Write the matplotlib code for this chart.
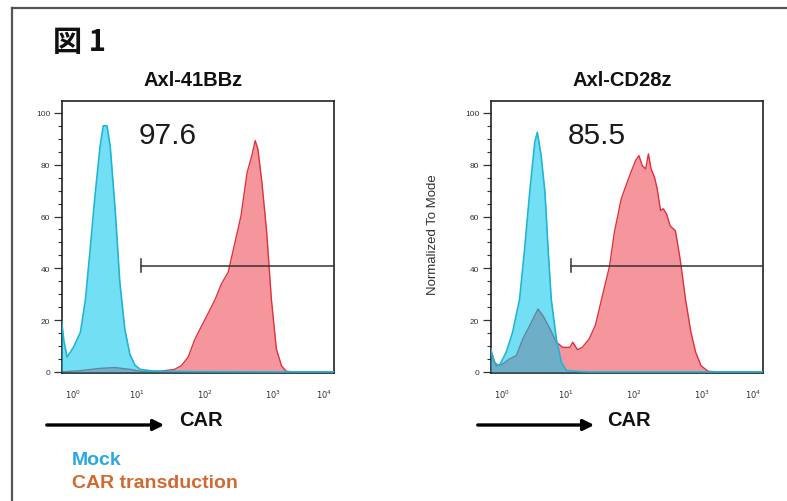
import numpy as np
import matplotlib
matplotlib.use('Agg')
import matplotlib.pyplot as plt
from matplotlib.lines import Line2D
from matplotlib.patches import FancyArrowPatch

# x values are log10 of the CAR signal (decades), y is % of mode
left_mock_x = [-0.19, -0.15, -0.10, 0.0, 0.11, 0.19, 0.27, 0.34, 0.42, 0.47, 0.53, 0.58,
               0.66, 0.73, 0.81, 0.89, 0.97, 1.05, 1.25, 2.0, 3.0, 4.19]
left_mock_y = [20.5, 12, 5.7, 9.5, 15.3, 28, 49, 68, 87, 95, 95, 87,
               62, 35, 16.5, 6.8, 2.6, 1.0, 0.3, 0.1, 0, 0]
left_car_x = [-0.19, 0.11, 0.42, 0.66, 0.89, 1.05, 1.35, 1.55, 1.65, 1.75, 1.85, 1.95,
              2.05, 2.15, 2.24, 2.34, 2.43, 2.53, 2.62, 2.69, 2.74, 2.78, 2.84, 2.91,
              2.98, 3.07, 3.17, 3.26, 3.4, 4.19]
left_car_y = [0, 0.5, 1.4, 1.7, 1.0, 0.3, 0.3, 1.0, 2.4, 5.7, 12.7, 17.9,
              23, 28.2, 34, 38.5, 48.8, 60.3, 77, 83.5, 89.3, 86, 73, 54,
              28, 8.9, 2.4, 0.3, 0, 0]

right_mock_x = [-0.21, -0.13, -0.05, 0.06, 0.16, 0.27, 0.35, 0.43, 0.51, 0.55, 0.61,
                0.67, 0.72, 0.77, 0.85, 0.93, 1.01, 1.3, 4.2]
right_mock_y = [11.5, 3.7, 2.4, 7.6, 15.3, 28, 47.5, 69.4, 88.7, 92.5, 83.5,
                69.4, 47.5, 28, 12.7, 3.7, 0.5, 0, 0]
right_car_x = [-0.21, -0.1, 0.0, 0.11, 0.22, 0.32, 0.43, 0.56, 0.64, 0.75, 0.85, 0.95,
               1.06, 1.10, 1.17, 1.24, 1.34, 1.43, 1.50, 1.57, 1.64, 1.71, 1.81, 1.88,
               1.95, 2.02, 2.07, 2.12, 2.17, 2.21, 2.25, 2.30, 2.34, 2.39, 2.43, 2.48,
               2.53, 2.61, 2.68, 2.76, 2.84, 2.91, 2.99, 3.12, 3.3, 4.2]
right_car_y = [10, 2.4, 3, 5, 6.3, 12.7, 17.9, 24.3, 21.7, 16.6, 11.5, 9.5,
               9.5, 11.5, 8.6, 9.5, 12.7, 17.9, 25.6, 33.3, 41, 54, 66.8, 72,
               77, 81.6, 83.5, 79.6, 78.4, 84.2, 78.4, 75.2, 70.7, 62.3, 63, 61,
               56.5, 54.5, 43.6, 28, 15.3, 7.6, 2.4, 0.3, 0, 0]

titles = ['Axl-41BBz', 'Axl-CD28z']
percents = ['97.6', '85.5']
gate_start = [1.06, 1.08]
gate_level = 41
decades = [0, 1, 2, 3, 4]

# FlowJo-like axis: decade ticks are not evenly spaced
knot_d = [-1, 0, 1, 2, 3, 4, 5]
knot_f = [0.042 - 0.233, 0.042, 0.275, 0.526, 0.774, 0.963, 0.963 + 0.189]

def fwd(x):
    return np.interp(x, knot_d, knot_f)

def inv(x):
    return np.interp(x, knot_f, knot_d)

plt.rcParams['font.family'] = ['Liberation Sans', 'Noto Sans CJK JP', 'DejaVu Sans']

fig = plt.figure(figsize=(7.87, 5.02), dpi=100)
W, H = 787, 502

cyan_edge = '#1fb6d6'
cyan_fill = '#00c6ec'
red_edge = '#e0323e'
red_fill = '#f5959c'

panels = [
    (62, left_mock_x, left_mock_y, left_car_x, left_car_y),
    (491, right_mock_x, right_mock_y, right_car_x, right_car_y),
]

axes = []
for i, (x0, mx, my, cx, cy) in enumerate(panels):
    ax = fig.add_axes([x0 / W, 1 - 374 / H, 272 / W, 272 / H])
    ax.set_xscale('function', functions=(fwd, inv))
    ax.set_xlim(-0.18, 4.19)
    ax.set_ylim(-0.4, 104.6)

    ax.fill_between(cx, 0, cy, color=red_fill, lw=0, zorder=1)
    ax.plot(cx, cy, color=red_edge, lw=1.0, zorder=2)
    ax.fill_between(mx, 0, my, color=cyan_fill, alpha=0.55, lw=0, zorder=3)
    ax.plot(mx, my, color=cyan_edge, lw=1.2, zorder=4)

    # gate
    ax.plot([gate_start[i], 4.19], [gate_level, gate_level], color='#333333', lw=1.1, zorder=5)
    ax.plot([gate_start[i], gate_start[i]], [gate_level - 2.5, gate_level + 2.5],
            color='#333333', lw=1.1, zorder=5)
    ax.text(0.39, 0.875, percents[i], transform=ax.transAxes, ha='center', va='center',
            fontsize=21.5, color='#1a1a1a')

    ax.set_yticks([0, 20, 40, 60, 80, 100])
    ax.set_yticks(np.arange(0, 101, 5), minor=True)
    ax.set_xticks(decades)
    ax.set_xticklabels([r'$10^{%d}$' % d for d in decades])
    ax.xaxis.set_minor_locator(matplotlib.ticker.NullLocator())
    ax.tick_params(axis='y', which='major', length=6, width=0.9, labelsize=6,
                   pad=2.5, colors='#333333')
    ax.tick_params(axis='y', which='minor', length=3, width=0.8, color='#333333')
    ax.tick_params(axis='x', length=0, labelsize=6, pad=10.5, colors='#333333')
    for s in ax.spines.values():
        s.set_linewidth(1.2)
        s.set_color('#222222')
    axes.append(ax)

axes[1].set_ylabel('Normalized To Mode', fontsize=9.5, color='#333333')
axes[1].yaxis.set_label_coords(-0.19, 0.511)

fig.text(193 / W, 1 - 80 / H, titles[0], ha='center', va='center',
         fontsize=14.5, fontweight='bold', color='#111111')
fig.text(622 / W, 1 - 80 / H, titles[1], ha='center', va='center',
         fontsize=14.5, fontweight='bold', color='#111111')

fig.text(53 / W, 1 - 42 / H, '図 1', ha='left', va='center', fontsize=21,
         fontweight='bold', family=['Noto Sans CJK JP', 'DejaVu Sans'], color='#111111')

# arrows + CAR axis captions
for xa, xb, xt in [(44, 167, 179), (475, 597, 607)]:
    arr = FancyArrowPatch((xa / W, 1 - 426 / H), (xb / W, 1 - 426 / H),
                          transform=fig.transFigure, arrowstyle='-|>',
                          mutation_scale=16, lw=2.4, color='black')
    fig.patches.append(arr)
    fig.text(xt / W, 1 - 420 / H, 'CAR', ha='left', va='center', fontsize=14.5,
             fontweight='bold', color='#111111')

fig.text(72 / W, 1 - 461 / H, 'Mock', ha='left', va='center', fontsize=14,
         fontweight='bold', color='#2aa6e6')
fig.text(72 / W, 1 - 484 / H, 'CAR transduction', ha='left', va='center', fontsize=14,
         fontweight='bold', color='#d2692f')

# outer frame (top and left edges visible)
fig.add_artist(Line2D([12 / W, 1.0], [1 - 9 / H, 1 - 9 / H], transform=fig.transFigure,
                      color='#555555', lw=1.6))
fig.add_artist(Line2D([12 / W, 12 / W], [1 - 9 / H, 0.0], transform=fig.transFigure,
                      color='#555555', lw=1.6))

fig.savefig('out.png', dpi=100)
